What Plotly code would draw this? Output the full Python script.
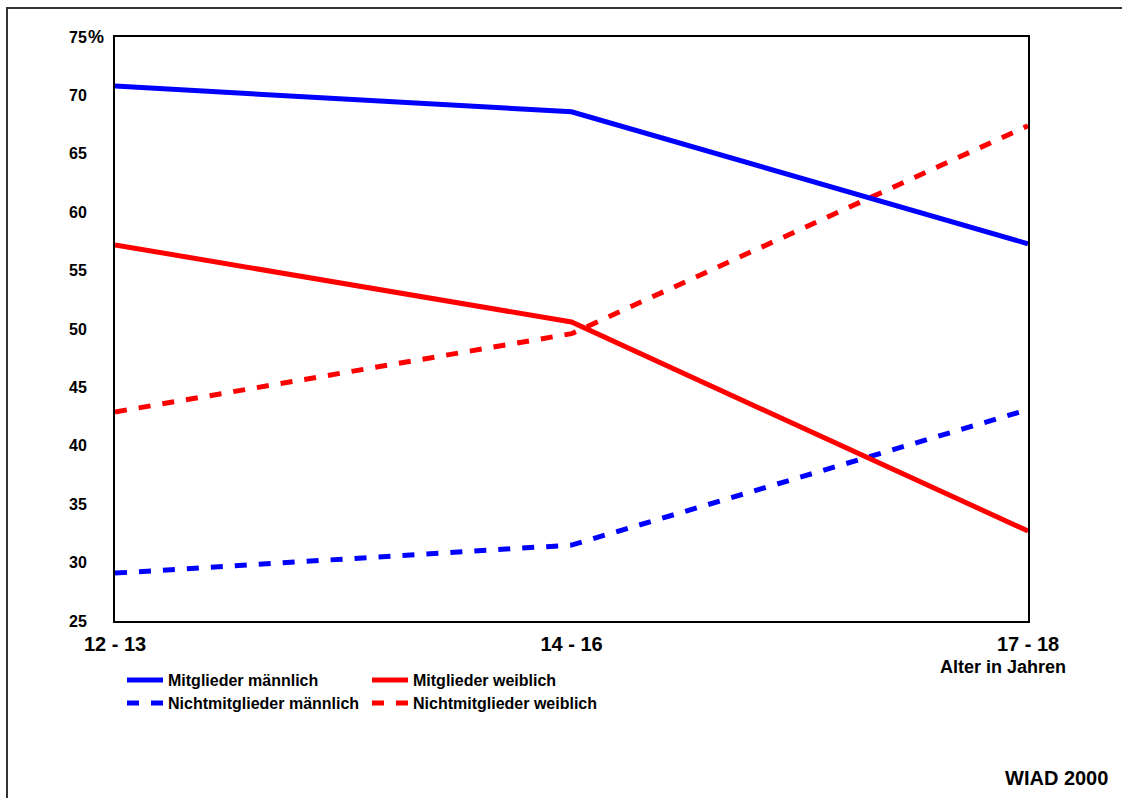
import plotly.graph_objects as go

categories = ["12 - 13", "14 - 16", "17 - 18"]
mitglieder_maennlich = [70.8, 68.6, 57.3]
mitglieder_weiblich = [57.2, 50.6, 32.7]
nicht_maennlich = [29.1, 31.5, 43.1]
nicht_weiblich = [42.9, 49.6, 67.4]
y_ticks = [25, 30, 35, 40, 45, 50, 55, 60, 65, 70, 75]
y_ticktext = ["25", "30", "35", "40", "45", "50", "55", "60", "65", "70", "75"]

W, H = 1122, 798
ML, MR, MT, MB = 115, 94, 37, 177
PW, PH = W - ML - MR, H - MT - MB

def px_x(x):
    return (x - ML) / PW

def px_y(y):
    return (H - MB - y) / PH

FONT = "Liberation Sans, Arial, sans-serif"
BLUE = "#0000FF"
RED = "#FF0000"
xs = list(range(len(categories)))

fig = go.Figure()
fig.add_trace(go.Scatter(x=xs, y=nicht_maennlich, mode="lines", name="Nichtmitglieder männlich",
                         line=dict(color=BLUE, width=5, dash="12px,12px"), legend="legend3"))
fig.add_trace(go.Scatter(x=xs, y=nicht_weiblich, mode="lines", name="Nichtmitglieder weiblich",
                         line=dict(color=RED, width=5, dash="12px,12px"), legend="legend4"))
fig.add_trace(go.Scatter(x=xs, y=mitglieder_maennlich, mode="lines", name="Mitglieder männlich",
                         line=dict(color=BLUE, width=5), legend="legend"))
fig.add_trace(go.Scatter(x=xs, y=mitglieder_weiblich, mode="lines", name="Mitglieder weiblich",
                         line=dict(color=RED, width=5), legend="legend2"))

legend_common = dict(font=dict(family=FONT, size=16, color="black", weight="bold"),
                     bgcolor="rgba(0,0,0,0)", xanchor="left", yanchor="middle",
                     orientation="v", itemwidth=36)

fig.update_layout(
    width=W, height=H,
    margin=dict(l=ML, r=MR, t=MT, b=MB),
    paper_bgcolor="white", plot_bgcolor="white",
    font=dict(family=FONT, color="black"),
    showlegend=True,
    legend=dict(x=px_x(122), y=px_y(680), **legend_common),
    legend2=dict(x=px_x(367), y=px_y(680), **legend_common),
    legend3=dict(x=px_x(122), y=px_y(703), **legend_common),
    legend4=dict(x=px_x(367), y=px_y(703), **legend_common),
    xaxis=dict(range=[0, 2], tickvals=xs, ticktext=categories, showgrid=False, zeroline=False,
               showline=True, linecolor="black", linewidth=2, mirror=True, ticks="",
               tickfont=dict(family=FONT, size=20, color="black", weight="bold"),
               ticklabelstandoff=4),
    yaxis=dict(range=[25, 75], tickvals=y_ticks, ticktext=y_ticktext, showgrid=False, zeroline=False,
               showline=True, linecolor="black", linewidth=2, mirror=True, ticks="",
               tickfont=dict(family=FONT, size=16, color="black", weight="bold"),
               ticklabelstandoff=23),
    shapes=[dict(type="rect", xref="paper", yref="paper",
                 x0=px_x(7), x1=px_x(1200), y0=px_y(900), y1=px_y(8),
                 line=dict(color="#333333", width=2), fillcolor="rgba(0,0,0,0)", layer="below")],
    annotations=[
        dict(text="%", xref="paper", yref="y", x=px_x(86), y=75, xanchor="left", yanchor="middle",
             showarrow=False, font=dict(family=FONT, size=18, color="black", weight="bold")),
        dict(text="Alter in Jahren", xref="paper", yref="paper", x=px_x(1003), y=px_y(667),
             xanchor="center", yanchor="middle", showarrow=False,
             font=dict(family=FONT, size=18, color="black", weight="bold")),
        dict(text="WIAD 2000", xref="paper", yref="paper", x=px_x(1110), y=px_y(778),
             xanchor="right", yanchor="middle", showarrow=False,
             font=dict(family=FONT, size=20, color="black", weight="bold")),
    ],
)

fig.write_html("out.html", config={"displayModeBar": False},
               post_script="document.body.style.margin='0';")
